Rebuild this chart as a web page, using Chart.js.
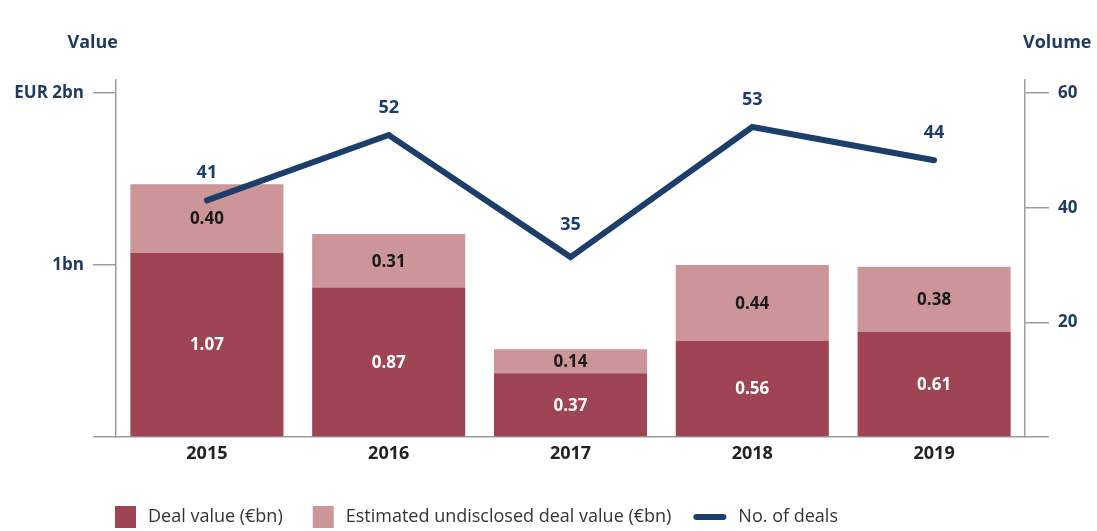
<!DOCTYPE html>
<html>
<head>
<meta charset="utf-8">
<title>Deal value and volume</title>
<script src="https://cdn.jsdelivr.net/npm/chart.js@4.4.1/dist/chart.umd.min.js"></script>
<style>
    html, body { margin: 0; padding: 0; background: #fff; }
    #chartWrap { position: relative; width: 1097px; height: 531px; }
</style>
</head>
<body>
<div id="chartWrap"><canvas id="dealsChart"></canvas></div>
<script>
// Data
const years = ["2015", "2016", "2017", "2018", "2019"];
const dealValue = [1.07, 0.87, 0.37, 0.56, 0.61];
const undisclosedValue = [0.40, 0.31, 0.14, 0.44, 0.38];
// where the line is drawn on the volume axis, and the numbers printed on it
const dealCount = [41.3, 52.7, 31.4, 54.1, 48.3];
const dealCountLabels = ["41", "52", "35", "53", "44"];

const valueTicks = [0, 1, 2];
const valueTickLabels = ["", "1bn", "EUR 2bn"];
const volumeTicks = [0, 20, 40, 60];
const volumeTickLabels = ["", "20", "40", "60"];

const legendLabels = ["Deal value (€bn)", "Estimated undisclosed deal value (€bn)", "No. of deals"];

document.addEventListener("DOMContentLoaded", function () {
    const colors = {
        dark: "#9e4452",
        light: "#cc9597",
        navy: "#1c3e6b",
        axis: "#9c9c9c",
        text: "#222222",
    };
    const fontFamily = "'Open Sans', 'Noto Sans', sans-serif";

    // Numbers on the bars and above the line
    const valueLabels = {
        id: "valueLabels",
        afterDatasetsDraw(chart) {
            const ctx = chart.ctx;
            ctx.save();
            ctx.textAlign = "center";
            ctx.textBaseline = "middle";
            ctx.font = "bold 17px " + fontFamily;
            [0, 1].forEach((i) => {
                const meta = chart.getDatasetMeta(i);
                const values = chart.data.datasets[i].data;
                meta.data.forEach((bar, j) => {
                    ctx.fillStyle = i === 0 ? "#ffffff" : "#1a1a1a";
                    ctx.fillText(values[j].toFixed(2), bar.x, (bar.y + bar.base) / 2 + 1);
                });
            });
            const lineMeta = chart.getDatasetMeta(2);
            ctx.font = "bold 18px " + fontFamily;
            ctx.fillStyle = colors.navy;
            lineMeta.data.forEach((pt, j) => {
                const off = j === 2 ? 32 : 27;
                ctx.fillText(dealCountLabels[j], pt.x, pt.y - off);
            });
            ctx.restore();
        },
    };

    // Axis titles and legend
    const extras = {
        id: "extras",
        afterDraw(chart) {
            const ctx = chart.ctx;
            const area = chart.chartArea;
            ctx.save();
            ctx.textBaseline = "middle";
            ctx.font = "bold 18px " + fontFamily;
            ctx.fillStyle = "#1f3a5f";
            ctx.textAlign = "right";
            ctx.fillText("Value", area.left + 2, 43);
            ctx.textAlign = "left";
            ctx.fillText("Volume", area.right - 2, 43);

            // legend
            const ly = 517;
            let x = 115;
            ctx.font = "18px " + fontFamily;
            ctx.textAlign = "left";
            legendLabels.forEach((label, i) => {
                if (i < 2) {
                    ctx.fillStyle = i === 0 ? colors.dark : colors.light;
                    ctx.fillRect(x, ly - 11, 21, 22);
                    x += 33;
                } else {
                    x -= 8;
                    ctx.strokeStyle = colors.navy;
                    ctx.lineWidth = 6;
                    ctx.lineCap = "round";
                    ctx.beginPath();
                    ctx.moveTo(x + 3, ly);
                    ctx.lineTo(x + 30, ly);
                    ctx.stroke();
                    x += 45;
                }
                ctx.fillStyle = "#333333";
                ctx.fillText(label, x, ly);
                x += ctx.measureText(label).width + 30;
            });
            ctx.restore();
        },
    };

    const canvas = document.getElementById("dealsChart");
    new Chart(canvas.getContext("2d"), {
        type: "bar",
        data: {
            labels: years,
            datasets: [
                {
                    label: legendLabels[0],
                    data: dealValue,
                    backgroundColor: colors.dark,
                    yAxisID: "y",
                    stack: "value",
                    order: 1,
                    barPercentage: 1,
                    categoryPercentage: 0.842,
                },
                {
                    label: legendLabels[1],
                    data: undisclosedValue,
                    backgroundColor: colors.light,
                    yAxisID: "y",
                    stack: "value",
                    order: 1,
                    barPercentage: 1,
                    categoryPercentage: 0.842,
                },
                {
                    type: "line",
                    label: legendLabels[2],
                    data: dealCount,
                    yAxisID: "y2",
                    borderColor: colors.navy,
                    borderWidth: 6,
                    borderCapStyle: "round",
                    borderJoinStyle: "miter",
                    pointRadius: 0,
                    tension: 0,
                    order: 0,
                },
            ],
        },
        options: {
            responsive: true,
            maintainAspectRatio: false,
            animation: false,
            layout: {
                padding: { top: 80, bottom: 64, left: 0, right: 0 },
            },
            plugins: {
                legend: { display: false },
                tooltip: { enabled: false },
            },
            scales: {
                x: {
                    stacked: true,
                    grid: { display: false, drawTicks: false },
                    border: { display: true, color: colors.axis, width: 1.5 },
                    ticks: {
                        padding: 6,
                        color: colors.text,
                        font: { size: 18, weight: "bold", family: fontFamily },
                    },
                    afterFit: (scale) => { scale.height = 30; },
                },
                y: {
                    position: "left",
                    stacked: true,
                    min: 0,
                    max: 2.076,
                    afterBuildTicks: (scale) => {
                        scale.ticks = valueTicks.map((v) => ({ value: v }));
                    },
                    ticks: {
                        padding: 9,
                        color: "#1f3a5f",
                        font: { size: 17, weight: "bold", family: fontFamily },
                        callback: (v) => valueTickLabels[valueTicks.indexOf(v)],
                    },
                    grid: {
                        drawOnChartArea: false,
                        drawTicks: true,
                        tickLength: 23,
                        color: colors.axis,
                        lineWidth: 1.5,
                    },
                    border: { display: true, color: colors.axis, width: 1.5 },
                    afterFit: (scale) => { scale.width = 116; },
                },
                y2: {
                    position: "right",
                    min: 0,
                    max: 62.3,
                    afterBuildTicks: (scale) => {
                        scale.ticks = volumeTicks.map((v) => ({ value: v }));
                    },
                    ticks: {
                        padding: 9,
                        color: "#1f3a5f",
                        font: { size: 17, weight: "bold", family: fontFamily },
                        callback: (v) => volumeTickLabels[volumeTicks.indexOf(v)],
                    },
                    grid: {
                        drawOnChartArea: false,
                        drawTicks: true,
                        tickLength: 24,
                        color: colors.axis,
                        lineWidth: 1.5,
                    },
                    border: { display: true, color: colors.axis, width: 1.5 },
                    afterFit: (scale) => { scale.width = 72; },
                },
            },
        },
        plugins: [valueLabels, extras],
    });
});
</script>
</body>
</html>
